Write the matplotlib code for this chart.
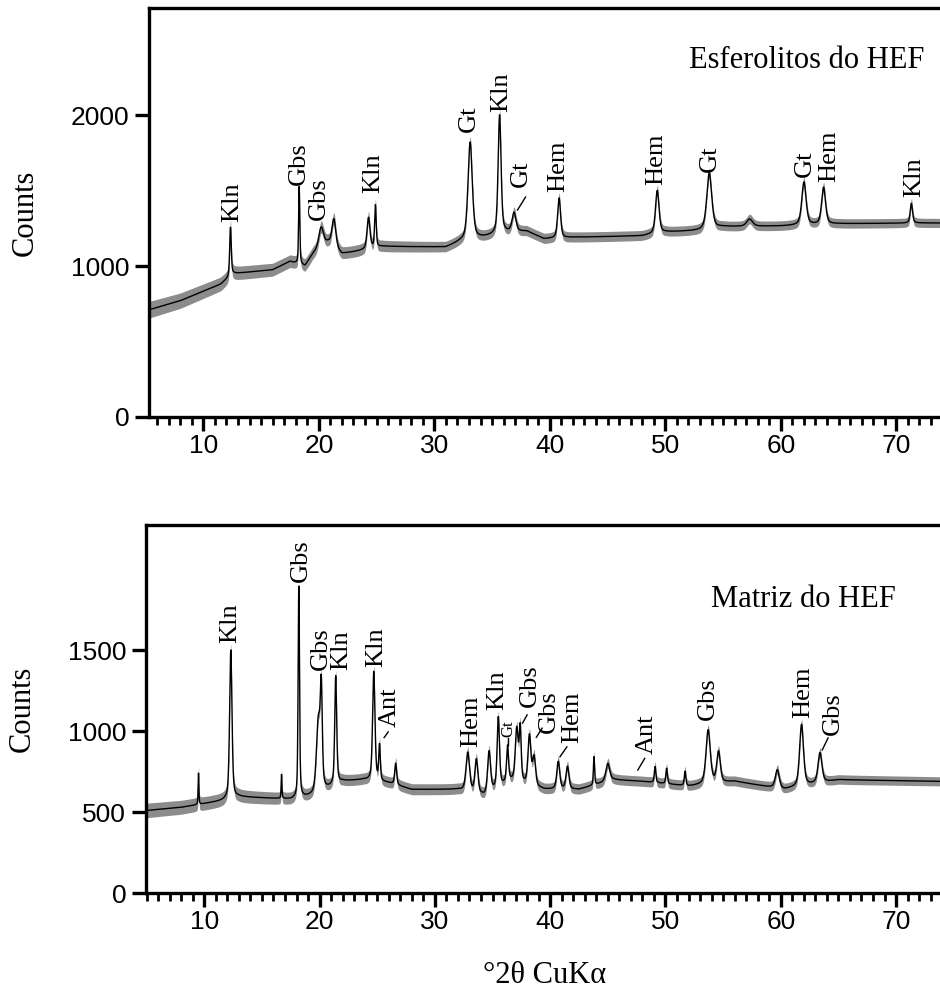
import numpy as np
import matplotlib
matplotlib.use("Agg")
import matplotlib.pyplot as plt
from matplotlib.ticker import MultipleLocator, FixedLocator

# ---------------- data: Esferolitos do HEF ----------------
esf_base_x = [5.3, 8.0, 11.5, 12.6, 16.0, 17.5, 18.8, 19.5, 20.8, 22.0, 23.5, 25.5,
              31.0, 32.2, 34.3, 36.2, 38.0, 39.5, 42.0, 48.0, 50.0, 53.0, 55.0,
              60.0, 65.0, 72.0, 76.0]
esf_base_y = [710, 770, 880, 950, 975, 1030, 1000, 1080, 1150, 1080, 1100, 1130,
              1125, 1160, 1190, 1220, 1230, 1180, 1190, 1200, 1225, 1235, 1260,
              1265, 1280, 1285, 1285]
esf_peak_pos = [12.35, 18.3, 20.2, 21.3, 24.3, 24.9, 33.1, 35.65, 36.9, 40.8,
                49.3, 53.8, 57.3, 62.0, 63.7, 71.3]
esf_peak_top = [1260, 1525, 1255, 1310, 1320, 1400, 1820, 2000, 1350, 1450,
                1500, 1615, 1310, 1555, 1520, 1415]
esf_peak_hw = [0.08, 0.06, 0.25, 0.2, 0.15, 0.08, 0.22, 0.15, 0.2, 0.15,
               0.18, 0.25, 0.3, 0.22, 0.2, 0.12]
esf_noise_x = [5.3, 12.0, 30.0, 76.0]
esf_noise_hw = [55, 45, 35, 30]

# phase labels: text, x, y (bottom of text)
esf_lbl_text = ["Kln", "Gbs", "Gbs", "Kln", "Gt", "Kln", "Gt", "Hem", "Hem",
                "Gt", "Gt", "Hem", "Kln"]
esf_lbl_x = [12.5, 18.3, 20.0, 24.75, 33.0, 35.75, 37.5, 40.75, 49.25,
             53.85, 62.05, 64.15, 71.55]
esf_lbl_y = [1291, 1536, 1305, 1483, 1887, 2020, 1523, 1490, 1536,
             1623, 1589, 1556, 1457]
esf_leaders = [((37.2, 1371), (37.9, 1457))]

# ---------------- data: Matriz do HEF ----------------
mat_base_x = [4.9, 8.0, 11.5, 13.0, 17.5, 19.5, 22.0, 23.8, 26.0, 28.0, 32.0,
              34.3, 36.5, 39.5, 42.5, 45.5, 48.0, 52.0, 56.0, 60.3, 65.0, 74.0, 76.0]
mat_base_y = [510, 530, 570, 595, 580, 600, 690, 700, 680, 640, 640,
              600, 690, 640, 640, 700, 690, 660, 690, 640, 700, 690, 690]
mat_peak_pos = [9.5, 12.3, 16.7, 18.2, 19.9, 20.15, 21.4, 24.7, 25.2, 26.6,
                32.85, 33.6, 34.7, 35.5, 36.3, 37.1, 37.4, 38.2, 38.6, 40.7,
                41.5, 43.8, 45.0, 49.1, 50.1, 51.7, 53.7, 54.6, 59.7, 61.8, 63.4]
mat_peak_top = [740, 1500, 730, 1890, 1060, 1180, 1335, 1365, 905, 800,
                865, 820, 870, 1080, 900, 1005, 1000, 965, 830, 810,
                780, 840, 800, 780, 770, 750, 1005, 870, 760, 1040, 865]
mat_peak_hw = [0.04, 0.12, 0.04, 0.07, 0.2, 0.1, 0.1, 0.12, 0.08, 0.1,
               0.18, 0.15, 0.15, 0.12, 0.1, 0.15, 0.1, 0.15, 0.15, 0.15,
               0.15, 0.06, 0.2, 0.08, 0.08, 0.08, 0.22, 0.18, 0.2, 0.2, 0.2]
mat_noise_x = [4.9, 20.0, 76.0]
mat_noise_hw = [45, 35, 28]

mat_lbl_text = ["Kln", "Gbs", "Gbs", "Kln", "Kln", "Ant", "Hem", "Kln", "Gbs",
                "Gbs", "Hem", "Ant", "Gbs", "Hem", "Gbs"]
mat_lbl_x = [12.23, 18.39, 20.12, 21.86, 24.9, 26.11, 33.14, 35.39, 38.25,
             39.9, 41.9, 48.4, 53.69, 61.93, 64.53]
mat_lbl_y = [1543, 1920, 1377, 1377, 1397, 1026, 903, 1131, 1149,
             988, 925, 862, 1069, 1081, 977]
mat_leaders = [((25.6, 960), (25.95, 995)),
               ((37.6, 1049), (38.0, 1100)),
               ((38.8, 962), (39.3, 1018)),
               ((40.85, 842), (41.45, 903)),
               ((47.6, 760), (48.2, 832)),
               ((63.6, 884), (64.1, 958))]
mat_small_lbl = ("Gt", 36.34, 962)
mat_small_leader = ((36.34, 915), (36.34, 955))


def pattern(x, bx, by, pos, top, hw):
    base = np.interp(x, bx, by)
    y = base.copy()
    for p, t, w in zip(pos, top, hw):
        amp = t - np.interp(p, bx, by)
        lor = 1.0 / (1.0 + ((x - p) / w) ** 2)
        gau = np.exp(-np.log(2) * ((x - p) / w) ** 2)
        y += amp * (0.5 * lor + 0.5 * gau)
    return y


W, H = 940.0, 992.0
fig = plt.figure(figsize=(9.4, 9.92), dpi=100)

SERIF = ["Liberation Serif", "DejaVu Serif"]
SANS = ["Liberation Sans", "DejaVu Sans"]


def make_axes(left, top, bottom, x0, x1, ppd, ymax, yticks):
    width = (x1 - x0) * ppd
    ax = fig.add_axes([left / W, 1 - bottom / H, width / W, (bottom - top) / H])
    ax.set_xlim(x0, x1)
    ax.set_ylim(0, ymax)
    for s in ax.spines.values():
        s.set_linewidth(2.4)
    ax.xaxis.set_major_locator(FixedLocator([10, 20, 30, 40, 50, 60, 70]))
    ax.xaxis.set_minor_locator(MultipleLocator(1))
    ax.yaxis.set_major_locator(FixedLocator(yticks))
    ax.tick_params(axis="both", which="major", direction="out", length=10,
                   width=2.4, labelsize=19, pad=4)
    ax.tick_params(axis="x", which="major", pad=2)
    ax.tick_params(axis="x", which="minor", direction="out", length=6, width=2.0)
    ax.tick_params(axis="y", which="minor", left=False)
    ax.tick_params(top=False, right=False)
    for lab in ax.get_xticklabels() + ax.get_yticklabels():
        lab.set_family(SANS)
    return ax


def draw(ax, x, y, nx, nhw):
    band = np.interp(x, nx, nhw)
    ax.fill_between(x, y - band, y + band, color="k", lw=0, alpha=0.45)
    ax.plot(x, y, color="k", lw=1.0)


# ---- top panel ----
ax1 = make_axes(148.7, 8, 417, 5.27, 76.0, 11.55, 2709, [0, 1000, 2000])
x1 = np.arange(5.3, 76.0, 0.02)
y1 = pattern(x1, esf_base_x, esf_base_y, esf_peak_pos, esf_peak_top, esf_peak_hw)
draw(ax1, x1, y1, esf_noise_x, esf_noise_hw)
for t, lx, ly in zip(esf_lbl_text, esf_lbl_x, esf_lbl_y):
    ax1.text(lx, ly, t, rotation=90, ha="center", va="bottom", fontsize=19,
             family=SERIF)
for (a, b) in esf_leaders:
    ax1.plot([a[0], b[0]], [a[1], b[1]], color="k", lw=1.0)
ax1.text(72.4, 2311, "Esferolitos do HEF", ha="right", va="baseline",
         fontsize=22, family=SERIF)
ax1.set_ylabel("Counts", fontsize=22, family=SERIF, labelpad=22)

# ---- bottom panel ----
ax2 = make_axes(145.7, 525, 893.3, 4.92, 76.0, 11.53, 2271, [0, 500, 1000, 1500])
x2 = np.arange(4.92, 76.0, 0.02)
y2 = pattern(x2, mat_base_x, mat_base_y, mat_peak_pos, mat_peak_top, mat_peak_hw)
draw(ax2, x2, y2, mat_noise_x, mat_noise_hw)
for t, lx, ly in zip(mat_lbl_text, mat_lbl_x, mat_lbl_y):
    ax2.text(lx, ly, t, rotation=90, ha="center", va="bottom", fontsize=19,
             family=SERIF)
for (a, b) in mat_leaders:
    ax2.plot([a[0], b[0]], [a[1], b[1]], color="k", lw=1.0)
st, sx, sy = mat_small_lbl
ax2.text(sx, sy, st, rotation=90, ha="center", va="bottom", fontsize=12,
         family=SERIF)
ax2.plot([mat_small_leader[0][0], mat_small_leader[1][0]],
         [mat_small_leader[0][1], mat_small_leader[1][1]], color="k", lw=1.0)
ax2.text(70.0, 1765, "Matriz do HEF", ha="right", va="baseline",
         fontsize=22, family=SERIF)
ax2.set_ylabel("Counts", fontsize=22, family=SERIF, labelpad=22)

fig.text(545 / W, 1 - 983 / H, "°2θ CuKα", ha="center", va="baseline",
         fontsize=22, family=SERIF)

fig.savefig("out.png", dpi=100, facecolor="white")
